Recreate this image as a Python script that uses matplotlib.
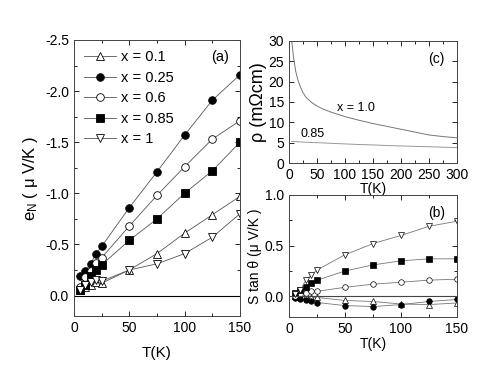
import matplotlib.pyplot as plt
from matplotlib.ticker import MultipleLocator

plt.rcParams["font.family"] = ["Liberation Sans", "DejaVu Sans"]
plt.rcParams["mathtext.fontset"] = "custom"
plt.rcParams["mathtext.rm"] = "Liberation Sans"
plt.rcParams["mathtext.it"] = "Liberation Sans"

# temperatures for panels (a) and (b)
T = [5, 10, 15, 20, 25, 50, 75, 100, 125, 150]
labels = ["x = 0.1", "x = 0.25", "x = 0.6", "x = 0.85", "x = 1"]

# (a) Nernst coefficient e_N (uV/K)
eN_01 = [-0.05, -0.08, -0.10, -0.13, -0.12, -0.25, -0.41, -0.61, -0.79, -0.97]
eN_025 = [-0.19, -0.24, -0.31, -0.41, -0.48, -0.86, -1.21, -1.57, -1.91, -2.16]
eN_06 = [-0.08, -0.18, -0.24, -0.32, -0.37, -0.68, -0.98, -1.26, -1.53, -1.71]
eN_085 = [-0.05, -0.10, -0.19, -0.25, -0.30, -0.54, -0.75, -1.00, -1.22, -1.50]
eN_1 = [-0.05, -0.10, -0.13, -0.15, -0.14, -0.25, -0.31, -0.41, -0.57, -0.80]

# (b) S tan(theta) (uV/K)
st_01 = [0.00, -0.01, 0.00, -0.01, -0.01, -0.04, -0.05, -0.075, -0.08, -0.065]
st_025 = [-0.02, -0.03, -0.04, -0.05, -0.06, -0.09, -0.10, -0.08, -0.05, -0.03]
st_06 = [0.00, 0.02, 0.03, 0.05, 0.05, 0.09, 0.12, 0.14, 0.16, 0.17]
st_085 = [0.03, 0.06, 0.09, 0.13, 0.16, 0.25, 0.31, 0.35, 0.37, 0.37]
st_1 = [0.02, 0.06, 0.16, 0.21, 0.26, 0.41, 0.52, 0.60, 0.69, 0.74]

# (c) resistivity (mOhm cm)
T_rho = [5, 8, 12, 16, 20, 25, 30, 40, 50, 60, 75, 100, 125, 150, 175, 200, 225, 250, 275, 300]
rho_1 = [30.0, 26.0, 22.5, 20.3, 18.8, 17.3, 16.2, 14.9, 14.0, 13.3, 12.5, 11.4, 10.5, 9.7, 9.0, 8.3, 7.6, 6.9, 6.5, 6.2]
rho_085 = [5.3, 5.3, 5.25, 5.2, 5.2, 5.15, 5.1, 5.05, 5.0, 4.95, 4.85, 4.7, 4.55, 4.45, 4.3, 4.2, 4.1, 4.0, 3.9, 3.8]

markers = [("^", "white"), ("o", "black"), ("o", "white"), ("s", "black"), ("v", "white")]


def style_axes(ax, size):
    ax.tick_params(which="both", direction="in", top=True, right=True, labelsize=size)
    ax.tick_params(which="major", length=3.5, width=0.6)
    ax.tick_params(which="minor", length=2, width=0.6)
    for s in ax.spines.values():
        s.set_linewidth(0.7)
        s.set_color("#444444")


def main():
    fig = plt.figure(figsize=(4.91, 3.92), dpi=100)

    # panel (a)
    ax_a = fig.add_axes([0.1507, 0.194, 0.338, 0.704])
    for ys, (m, fc), lab in zip([eN_01, eN_025, eN_06, eN_085, eN_1], markers, labels):
        ax_a.plot(T, ys, marker=m, mfc=fc, mec="black", mew=0.6, ms=5.5,
                  color="#555555", lw=0.6, label=lab)
    ax_a.axhline(0, color="black", lw=0.8)
    ax_a.set_xlim(0, 150)
    ax_a.set_ylim(0.2, -2.5)
    ax_a.xaxis.set_major_locator(MultipleLocator(50))
    ax_a.xaxis.set_minor_locator(MultipleLocator(25))
    ax_a.yaxis.set_major_locator(MultipleLocator(0.5))
    ax_a.yaxis.set_minor_locator(MultipleLocator(0.25))
    ax_a.yaxis.set_major_formatter(plt.FuncFormatter(lambda v, p: "%.1f" % v if abs(v) > 1e-9 else "0.0"))
    style_axes(ax_a, 10)
    ax_a.set_xlabel("T(K)", fontsize=11, labelpad=8)
    ax_a.set_ylabel(r"e$_N$ ( μ V/K )", fontsize=12)
    ax_a.text(0.88, 0.94, "(a)", transform=ax_a.transAxes, ha="center", va="center", fontsize=10.5)
    ax_a.legend(loc="upper left", frameon=False, fontsize=10.5, handlelength=2.2,
                handletextpad=0.3, labelspacing=0.45, borderaxespad=0.3,
                bbox_to_anchor=(0.0, 1.0))

    # panel (c)
    ax_c = fig.add_axes([0.5886, 0.584, 0.342, 0.312])
    ax_c.plot(T_rho, rho_1, color="#777777", lw=0.7)
    ax_c.plot(T_rho, rho_085, color="#999999", lw=0.7)
    ax_c.set_xlim(0, 300)
    ax_c.set_ylim(0, 30)
    ax_c.xaxis.set_major_locator(MultipleLocator(50))
    ax_c.xaxis.set_minor_locator(MultipleLocator(25))
    ax_c.yaxis.set_major_locator(MultipleLocator(5))
    style_axes(ax_c, 10)
    ax_c.set_xlabel("T(K)", fontsize=10, labelpad=0)
    ax_c.set_ylabel("ρ (mΩcm)", fontsize=13, labelpad=1)
    ax_c.text(0.88, 0.85, "(c)", transform=ax_c.transAxes, ha="center", va="center", fontsize=10)
    ax_c.text(85, 12.8, "x = 1.0", fontsize=9)
    ax_c.text(20, 6.3, "0.85", fontsize=9)

    # panel (b)
    ax_b = fig.add_axes([0.5886, 0.192, 0.342, 0.311])
    for ys, (m, fc) in zip([st_01, st_025, st_06, st_085, st_1], markers):
        ax_b.plot(T, ys, marker=m, mfc=fc, mec="black", mew=0.5, ms=4,
                  color="#777777", lw=0.6)
    ax_b.axhline(0, color="#444444", lw=0.8)
    ax_b.set_xlim(0, 150)
    ax_b.set_ylim(-0.2, 1.0)
    ax_b.xaxis.set_major_locator(MultipleLocator(50))
    ax_b.xaxis.set_minor_locator(MultipleLocator(25))
    ax_b.yaxis.set_major_locator(MultipleLocator(0.5))
    ax_b.yaxis.set_minor_locator(MultipleLocator(0.25))
    style_axes(ax_b, 10)
    ax_b.set_xlabel("T(K)", fontsize=10, labelpad=1)
    ax_b.set_ylabel("S tan θ (μ V/K )", fontsize=10, labelpad=2)
    ax_b.text(0.88, 0.85, "(b)", transform=ax_b.transAxes, ha="center", va="center", fontsize=10)

    fig.savefig("out.png", dpi=100)


if __name__ == "__main__":
    main()
